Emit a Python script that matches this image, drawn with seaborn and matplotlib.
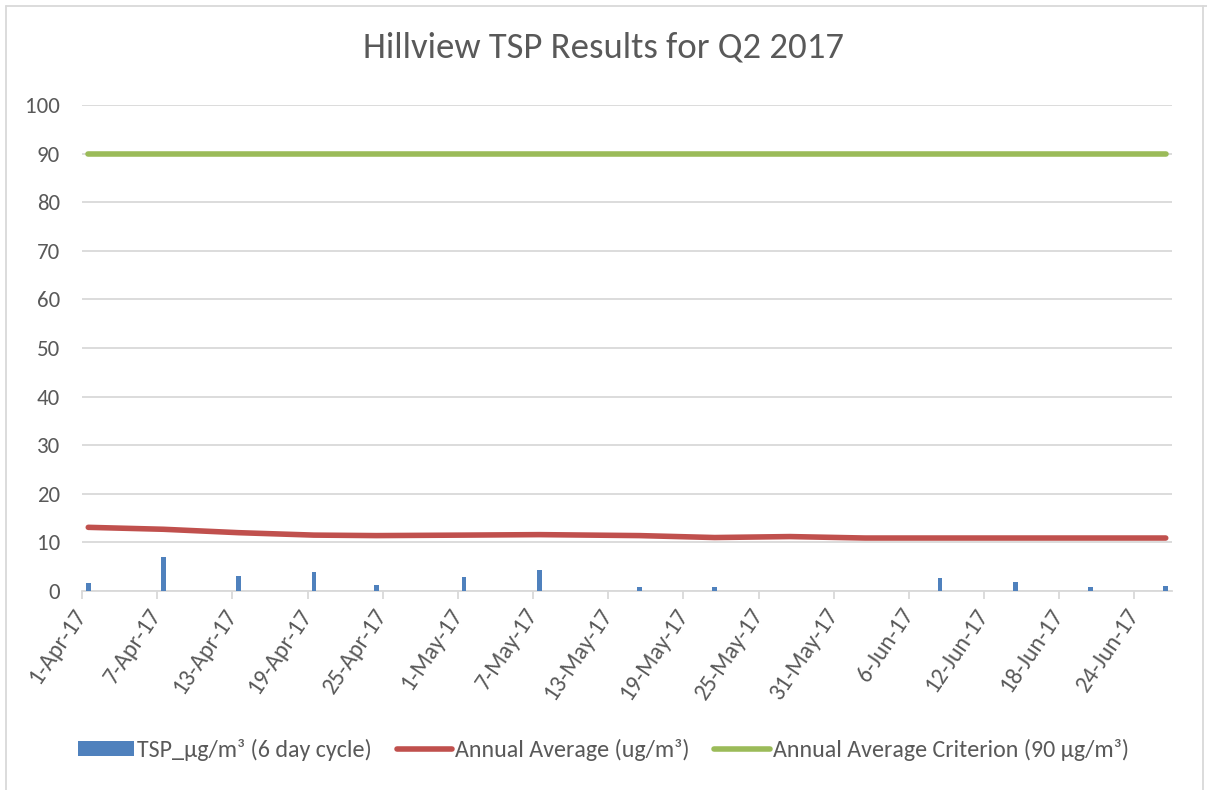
import matplotlib
matplotlib.use("Agg")
import matplotlib.pyplot as plt
from matplotlib.lines import Line2D
from matplotlib.patches import Patch
import seaborn as sns
import pandas as pd
import numpy as np

# ---- data ----
start = pd.Timestamp("2017-04-01")
end = pd.Timestamp("2017-06-26")
tsp_dates = ["2017-04-01", "2017-04-07", "2017-04-13", "2017-04-19", "2017-04-24",
             "2017-05-01", "2017-05-07", "2017-05-15", "2017-05-21", "2017-06-08",
             "2017-06-14", "2017-06-20", "2017-06-26"]
tsp_values = [1.6, 6.9, 3.1, 3.9, 1.2, 2.9, 4.3, 0.9, 0.9, 2.6, 1.9, 0.9, 1.1]
avg_dates = ["2017-04-01", "2017-04-07", "2017-04-13", "2017-04-19", "2017-04-24",
             "2017-05-01", "2017-05-07", "2017-05-15", "2017-05-21", "2017-05-27",
             "2017-06-02", "2017-06-08", "2017-06-14", "2017-06-20", "2017-06-26"]
avg_values = [13.1, 12.7, 12.0, 11.5, 11.4, 11.5, 11.6, 11.4, 11.0, 11.2,
              10.9, 10.9, 10.9, 10.9, 10.9]
criterion_dates = ["2017-04-01", "2017-06-26"]
criterion_values = [90, 90]
tick_labels = ["1-Apr-17", "7-Apr-17", "13-Apr-17", "19-Apr-17", "25-Apr-17",
               "1-May-17", "7-May-17", "13-May-17", "19-May-17", "25-May-17",
               "31-May-17", "6-Jun-17", "12-Jun-17", "18-Jun-17", "24-Jun-17"]
title = "Hillview TSP Results for Q2 2017"
legend_labels = ["TSP_µg/m³ (6 day cycle)", "Annual Average (ug/m³)",
                 "Annual Average Criterion (90 µg/m³)"]

def day_center(ds):
    return [(pd.Timestamp(d) - start).days + 0.5 for d in ds]

n_days = (end - start).days + 1

# ---- style ----
sns.set_theme(style="white")
plt.rcParams["font.family"] = ["Carlito", "Lato", "DejaVu Sans"]
TXT = "#595959"
GRID = "#D9D9D9"
BLUE = "#4F81BD"
RED = "#C0504D"
GREEN = "#9BBB59"

fig = plt.figure(figsize=(12.07, 7.90), dpi=100)
ax = fig.add_axes([82 / 1207, 1 - 591 / 790, (1172 - 82) / 1207, (591 - 105) / 790])

tsp_df = pd.DataFrame({"x": day_center(tsp_dates), "y": tsp_values})
avg_df = pd.DataFrame({"x": day_center(avg_dates), "y": avg_values})
crit_df = pd.DataFrame({"x": day_center(criterion_dates), "y": criterion_values})

min_gap = np.min(np.diff(sorted(tsp_df["x"])))
sns.barplot(data=tsp_df, x="x", y="y", native_scale=True, color=BLUE,
            saturation=1, width=0.36 / min_gap, ax=ax, zorder=3, errorbar=None,
            linewidth=0)
sns.lineplot(data=avg_df, x="x", y="y", color=RED, lw=4.0, ax=ax, zorder=4,
             solid_capstyle="round")
sns.lineplot(data=crit_df, x="x", y="y", color=GREEN, lw=4.0, ax=ax, zorder=4,
             solid_capstyle="round")

ax.set_xlim(0, n_days)
ax.set_ylim(0, 100)
ax.set_yticks(range(0, 101, 10))
ax.set_xticks(range(0, 6 * len(tick_labels), 6))
ax.set_xticklabels(tick_labels, rotation=56, ha="right", va="center",
                   rotation_mode="anchor")
ax.set_xlabel("")
ax.set_ylabel("")
ax.yaxis.grid(True, color=GRID, lw=1.3, zorder=0)
ax.set_axisbelow(True)
for s in ["left", "right", "top"]:
    ax.spines[s].set_visible(False)
ax.spines["bottom"].set_color(GRID)
ax.spines["bottom"].set_linewidth(1.3)
ax.tick_params(axis="x", colors=TXT, labelsize=17, length=6, width=1.3,
               color=GRID, direction="out", pad=8, bottom=True)
ax.tick_params(axis="y", colors=TXT, labelsize=16.5, length=0, pad=16)
for lab in ax.get_xticklabels() + ax.get_yticklabels():
    lab.set_color(TXT)

fig.text(0.5, 1 - 48 / 790, title, ha="center", va="center", fontsize=26.5, color=TXT)

handles = [Patch(facecolor=BLUE, edgecolor="none"),
           Line2D([0], [0], color=RED, lw=4.0),
           Line2D([0], [0], color=GREEN, lw=4.0)]
leg = fig.legend(handles, legend_labels, loc="center", ncol=3,
                 bbox_to_anchor=(0.5, 1 - 750 / 790), frameon=False,
                 fontsize=17.3, handlelength=2.3, handleheight=0.55,
                 handletextpad=0.12, columnspacing=1.05, labelcolor=TXT)

# chart area border
fig.add_artist(Line2D([6 / 1207, 6 / 1207], [0, 1 - 6 / 790], color=GRID, lw=1.3,
                      transform=fig.transFigure))
fig.add_artist(Line2D([6 / 1207, 1], [1 - 6 / 790, 1 - 6 / 790], color=GRID, lw=1.3,
                      transform=fig.transFigure))
fig.add_artist(Line2D([1203 / 1207, 1203 / 1207], [0, 1 - 6 / 790], color=GRID, lw=1.3,
                      transform=fig.transFigure))

fig.savefig("out.png", dpi=100)
